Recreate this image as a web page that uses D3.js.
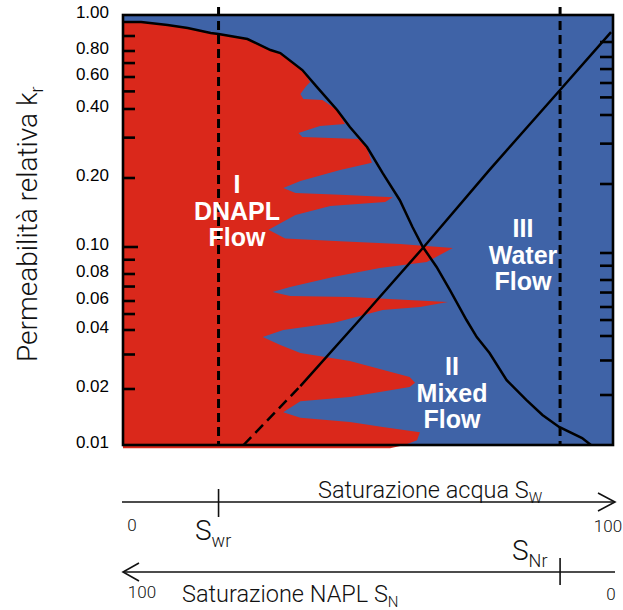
<!DOCTYPE html>
<html><head><meta charset="utf-8">
<script src="https://cdn.jsdelivr.net/npm/d3@7"></script>
<style>body{margin:0;background:#fff}</style>
</head><body>
<svg id="chart" width="623" height="610"></svg>
<script>
// ---------- data ----------
const tickValuesKr = [0.9,0.8,0.7,0.6,0.5,0.4,0.3,0.2,0.1,0.09,0.08,0.07,0.06,0.05,0.04,0.03,0.02];
const labelValuesKr = [1.00,0.80,0.60,0.40,0.20,0.10,0.08,0.06,0.04,0.02,0.01];
const labelTextKr = ["1.00","0.80","0.60","0.40","0.20","0.10","0.08","0.06","0.04","0.02","0.01"];

// NAPL relative permeability curve (Sw in %, kr)
const naplSw = [0, 3.7, 9.1, 13.2, 17.9, 19.5, 25.4, 30.1, 32.1, 36.6, 39.6, 43.7, 46.3, 49.8, 53.0, 56.5, 59.1, 61.2, 64.0, 66.7, 70.1, 72.2, 74.8, 78.3, 82.3, 85.6, 89.0, 93.7, 95.5];
const naplKr = [0.966, 0.965, 0.951, 0.937, 0.914, 0.909, 0.879, 0.806, 0.782, 0.648, 0.528, 0.396, 0.334, 0.273, 0.210, 0.160, 0.122, 0.100, 0.0848, 0.0675, 0.046, 0.0368, 0.0305, 0.0222, 0.0175, 0.0145, 0.0125, 0.0109, 0.010];

// Water relative permeability curve (first segment dashed)
const waterSw = [24.6, 36.2, 48.8, 61.2, 74.8, 89.2, 99.6];
const waterKr = [0.01, 0.0207, 0.048, 0.0992, 0.217, 0.509, 0.918];

// outline of the red (DNAPL flow) region with its fingers
const redSw = [0, 3.7, 9.1, 13.2, 17.9, 19.5, 25.4, 30.1, 32.1, 36.6, 38.2, 37.4, 36.2, 36.8, 40.7, 43.7, 45.3, 40.2, 35.8, 36.6, 48.0, 49.8, 50.8, 44.3, 36.2, 32.7, 35.2, 44.3, 55.1, 53.5, 42.3, 35.2, 29.7, 33.1, 44.3, 56.5, 67.3, 62.0, 52.4, 42.9, 34.1, 30.5, 34.1, 46.3, 66.3, 60.6, 53.0, 42.9, 32.7, 28.5, 32.1, 36.2, 46.3, 58.5, 59.6, 58.5, 46.3, 36.2, 32.7, 36.2, 46.3, 53.0, 60.6, 60.0, 57.5, 54.5, 0];
const redKr = [0.966, 0.965, 0.951, 0.937, 0.914, 0.909, 0.879, 0.806, 0.782, 0.648, 0.563, 0.535, 0.484, 0.454, 0.448, 0.396, 0.344, 0.337, 0.314, 0.302, 0.296, 0.270, 0.233, 0.217, 0.194, 0.181, 0.172, 0.169, 0.165, 0.157, 0.151, 0.138, 0.119, 0.109, 0.106, 0.103, 0.0992, 0.0883, 0.0841, 0.0775, 0.0697, 0.0660, 0.0633, 0.0626, 0.0592, 0.0552, 0.0529, 0.0441, 0.040, 0.0368, 0.0335, 0.0305, 0.0278, 0.0230, 0.0215, 0.0205, 0.0181, 0.0172, 0.0150, 0.0140, 0.0133, 0.0125, 0.0117, 0.0106, 0.0100, 0.0096, 0.0096];

const Swr = 19.5;   // residual water saturation (%)
const SNr = 10.8;   // residual NAPL saturation (%)

// ---------- layout ----------
const svg = d3.select("#chart");
const X0 = 123, X1 = 613, Y0 = 15, Y1 = 445;
const BLUE = "#3F63A7", RED = "#DA281B";

const x = d3.scaleLinear().domain([0, 100]).range([X0, X1]);
const y = d3.scaleLog()
  .domain([1, 0.9, 0.8, 0.6, 0.4, 0.2, 0.1, 0.08, 0.06, 0.04, 0.02, 0.01])
  .range([15, 36, 51, 77, 109, 178, 247, 274, 301, 330, 389, 445]);

// background blue
svg.append("rect").attr("x", X0).attr("y", Y0).attr("width", X1 - X0).attr("height", Y1 - Y0).attr("fill", BLUE);

// red region
const redPts = redSw.map((s, i) => [s, redKr[i]]);
svg.append("path")
  .attr("d", d3.line().x(d => x(d[0])).y(d => y(d[1]))(redPts) + "Z")
  .attr("fill", RED);

// dashed vertical lines
[Swr, 100 - SNr].forEach(v => {
  svg.append("line").attr("x1", x(v)).attr("x2", x(v)).attr("y1", 7).attr("y2", Y1)
    .attr("stroke", "#000").attr("stroke-width", 3).attr("stroke-dasharray", "9,5");
});

// curves
const line = d3.line().x(d => x(d[0])).y(d => y(d[1]));
const naplPts = naplSw.map((s, i) => [s, naplKr[i]]);
svg.append("path").attr("d", line(naplPts)).attr("fill", "none").attr("stroke", "#000").attr("stroke-width", 2.5);
const waterPts = waterSw.map((s, i) => [s, waterKr[i]]);
svg.append("path").attr("d", line(waterPts.slice(0, 2))).attr("fill", "none").attr("stroke", "#000")
  .attr("stroke-width", 2.5).attr("stroke-dasharray", "11,6");
svg.append("path").attr("d", line(waterPts.slice(1))).attr("fill", "none").attr("stroke", "#000").attr("stroke-width", 2.5);

// frame
svg.append("rect").attr("x", X0).attr("y", Y0).attr("width", X1 - X0).attr("height", Y1 - Y0)
  .attr("fill", "none").attr("stroke", "#000").attr("stroke-width", 2.6);

// ticks left and right
const ticks = svg.append("g").attr("stroke", "#000").attr("stroke-width", 2.6);
tickValuesKr.forEach(v => {
  const len = v === 0.1 ? 15 : 12;
  ticks.append("line").attr("x1", X0).attr("x2", X0 + len).attr("y1", y(v)).attr("y2", y(v));
  ticks.append("line").attr("x1", X1).attr("x2", X1 - 13).attr("y1", y(v) + 6).attr("y2", y(v) + 6);
});

// tick labels
svg.append("g").selectAll("text").data(labelValuesKr).join("text")
  .attr("x", 109).attr("y", d => y(d) - 3).attr("dy", "0.36em")
  .attr("text-anchor", "end")
  .attr("font-family", "'Liberation Sans', Arial, sans-serif").attr("font-size", 17)
  .text((d, i) => labelTextKr[i]);

// y title
const yt = svg.append("text").attr("transform", "translate(37,362) rotate(-90)")
  .attr("font-family", "Roboto, 'Liberation Sans', sans-serif").attr("font-weight", 300)
  .attr("font-size", 28).attr("fill", "#111");
yt.append("tspan").text("Permeabilità relativa k");
yt.append("tspan").attr("font-size", 18).attr("dy", 6).text("r");

// region labels
const regionLabels = [
  {cx: 237, base: 193, lines: ["I", "DNAPL", "Flow"]},
  {cx: 523, base: 237, lines: ["III", "Water", "Flow"]},
  {cx: 452, base: 375, lines: ["II", "Mixed", "Flow"]}
];
regionLabels.forEach(r => {
  r.lines.forEach((t, i) => {
    svg.append("text").attr("x", r.cx).attr("y", r.base + i * 26.5)
      .attr("text-anchor", "middle").attr("fill", "#fff")
      .attr("font-family", "'Liberation Sans', Arial, sans-serif").attr("font-weight", "bold")
      .attr("font-size", 25).text(t);
  });
});

// bottom saturation axes
const ax = svg.append("g").attr("stroke", "#111").attr("stroke-width", 1.6).attr("fill", "none");
ax.append("line").attr("x1", 122).attr("x2", 615).attr("y1", 502).attr("y2", 502);
ax.append("path").attr("d", "M598,493L615,502L598,511");
ax.append("line").attr("x1", x(Swr)).attr("x2", x(Swr)).attr("y1", 489).attr("y2", 517);
ax.append("line").attr("x1", 123).attr("x2", 615).attr("y1", 572).attr("y2", 572);
ax.append("path").attr("d", "M139,563L123,572L139,581");
ax.append("line").attr("x1", x(100 - SNr)).attr("x2", x(100 - SNr)).attr("y1", 558).attr("y2", 585);

const LF = "Roboto, 'Liberation Sans', sans-serif";
function lt(xp, yp, size, anchor) {
  return svg.append("text").attr("x", xp).attr("y", yp).attr("font-family", LF).attr("font-weight", 300)
    .attr("font-size", size).attr("text-anchor", anchor).attr("fill", "#111");
}
let t1 = lt(318, 498, 23.5, "start");
t1.append("tspan").text("Saturazione acqua S");
t1.append("tspan").attr("font-size", 15).attr("dy", 5).text("W");
lt(132, 531, 17, "middle").text("0");
lt(608, 532, 17, "middle").text("100");
let t2 = lt(195, 540, 28, "start");
t2.append("tspan").text("S");
t2.append("tspan").attr("font-size", 18).attr("dy", 7).text("wr");
let t3 = lt(512, 560, 28, "start");
t3.append("tspan").text("S");
t3.append("tspan").attr("font-size", 18).attr("dy", 7).text("Nr");
lt(142, 598, 17, "middle").text("100");
let t4 = lt(182, 602, 23.5, "start");
t4.append("tspan").text("Saturazione NAPL S");
t4.append("tspan").attr("font-size", 15).attr("dy", 5).text("N");
lt(611, 600, 17, "middle").text("0");
</script>
</body></html>
